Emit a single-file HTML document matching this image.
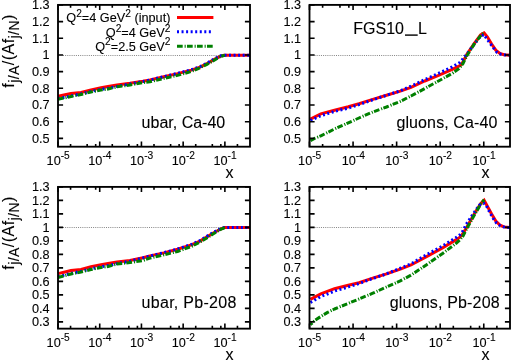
<!DOCTYPE html>
<html><head><meta charset="utf-8"><title>FGS10_L nuclear PDFs</title>
<style>html,body{margin:0;padding:0;background:#fff;overflow:hidden;}svg{display:block;}text{font-family:"Liberation Sans", sans-serif;fill:#000;stroke:#000;stroke-width:0.1px;}</style>
</head><body>
<svg width="520" height="363" viewBox="0 0 520 363" style="will-change:transform">
<rect x="0" y="0" width="520" height="363" fill="#fff"/>
<g>
<line x1="63.0" y1="55.50" x2="250.0" y2="55.50" stroke="#858585" stroke-width="1" stroke-dasharray="1 1.15"/>
<polyline points="58.0,96.2 65.0,94.8 71.0,93.6 81.0,92.4 91.0,90.0 101.0,87.8 108.0,86.6 117.0,85.0 130.0,83.3 143.0,81.3 150.0,80.0 163.8,76.7 177.5,73.6 191.3,70.1 200.0,67.1 206.9,63.7 213.8,59.6 220.6,56.1 224.1,55.2 250.0,55.2" fill="none" stroke="#ff0000" stroke-width="3" stroke-linejoin="miter" stroke-miterlimit="3"/>
<polyline points="58.0,98.6 65.0,97.2 71.0,95.9 81.0,93.9 91.0,91.4 101.0,89.4 108.0,88.3 117.0,86.4 130.0,83.9 143.0,81.5 150.0,80.0 163.8,76.6 177.5,73.4 191.3,69.8 200.0,66.7 206.9,63.2 213.8,59.1 220.6,55.8 223.8,55.2 250.0,55.2" fill="none" stroke="#0000ff" stroke-width="3" stroke-dasharray="2 2.55" stroke-linejoin="round"/>
<polyline points="58.0,99.2 65.0,97.8 71.0,96.5 81.0,94.5 91.0,92.0 101.0,90.0 108.0,89.0 117.0,86.8 130.0,85.0 143.0,82.5 150.0,81.8 163.8,78.4 177.5,75.4 191.3,71.5 200.0,67.8 206.9,64.4 213.8,60.5 220.6,56.4 224.8,55.2" fill="none" stroke="#008000" stroke-width="3" stroke-dasharray="5.7 1.9 1.1 1.3" stroke-dashoffset="0" stroke-linejoin="round"/>
<path d="M58.0 4.90h5.1M250.0 4.90h-5.1M58.0 21.58h5.1M250.0 21.58h-5.1M58.0 38.26h5.1M250.0 38.26h-5.1M58.0 54.95h5.1M250.0 54.95h-5.1M58.0 71.63h5.1M250.0 71.63h-5.1M58.0 88.31h5.1M250.0 88.31h-5.1M58.0 104.99h5.1M250.0 104.99h-5.1M58.0 121.68h5.1M250.0 121.68h-5.1M58.0 138.36h5.1M250.0 138.36h-5.1M58.00 146.7v-5.1M58.00 4.9v5.1M70.56 146.7v-2.8M70.56 4.9v2.8M87.16 146.7v-2.8M87.16 4.9v2.8M95.68 146.7v-2.8M95.68 4.9v2.8M99.72 146.7v-5.1M99.72 4.9v5.1M112.28 146.7v-2.8M112.28 4.9v2.8M128.88 146.7v-2.8M128.88 4.9v2.8M137.40 146.7v-2.8M137.40 4.9v2.8M141.44 146.7v-5.1M141.44 4.9v5.1M154.00 146.7v-2.8M154.00 4.9v2.8M170.60 146.7v-2.8M170.60 4.9v2.8M179.12 146.7v-2.8M179.12 4.9v2.8M183.16 146.7v-5.1M183.16 4.9v5.1M195.72 146.7v-2.8M195.72 4.9v2.8M212.32 146.7v-2.8M212.32 4.9v2.8M220.84 146.7v-2.8M220.84 4.9v2.8M224.88 146.7v-5.1M224.88 4.9v5.1M237.44 146.7v-2.8M237.44 4.9v2.8" stroke="#000" stroke-width="1.6" fill="none"/>
<rect x="58.00" y="4.90" width="192.00" height="141.80" fill="none" stroke="#000" stroke-width="1.85"/>
<text x="49.6" y="9.30" font-size="12.7" text-anchor="end">1.3</text>
<text x="49.6" y="25.98" font-size="12.7" text-anchor="end">1.2</text>
<text x="49.6" y="42.66" font-size="12.7" text-anchor="end">1.1</text>
<text x="49.6" y="59.35" font-size="12.7" text-anchor="end">1</text>
<text x="49.6" y="76.03" font-size="12.7" text-anchor="end">0.9</text>
<text x="49.6" y="92.71" font-size="12.7" text-anchor="end">0.8</text>
<text x="49.6" y="109.39" font-size="12.7" text-anchor="end">0.7</text>
<text x="49.6" y="126.08" font-size="12.7" text-anchor="end">0.6</text>
<text x="49.6" y="142.76" font-size="12.7" text-anchor="end">0.5</text>
<text x="58.20" y="164.9" font-size="12.7" text-anchor="middle">10<tspan font-size="10.2" dy="-6.2">-5</tspan></text>
<text x="99.92" y="164.9" font-size="12.7" text-anchor="middle">10<tspan font-size="10.2" dy="-6.2">-4</tspan></text>
<text x="141.64" y="164.9" font-size="12.7" text-anchor="middle">10<tspan font-size="10.2" dy="-6.2">-3</tspan></text>
<text x="183.36" y="164.9" font-size="12.7" text-anchor="middle">10<tspan font-size="10.2" dy="-6.2">-2</tspan></text>
<text x="225.08" y="164.9" font-size="12.7" text-anchor="middle">10<tspan font-size="10.2" dy="-6.2">-1</tspan></text>
<text x="229.6" y="177.8" font-size="16" text-anchor="middle">x</text>
</g>
<g>
<line x1="314.5" y1="55.50" x2="510.0" y2="55.50" stroke="#858585" stroke-width="1" stroke-dasharray="1 1.15"/>
<polyline points="310.4,119.1 320.8,113.9 334.5,110.2 348.3,106.7 359.0,103.7 372.8,99.4 386.5,95.3 400.3,91.1 411.0,87.3 424.8,81.0 438.5,75.4 452.3,69.3 460.5,65.4 463.0,62.0 466.9,54.3 473.8,44.0 480.6,35.0 484.1,32.9 487.5,37.1 491.6,44.0 495.8,50.2 499.9,53.4 504.0,54.7 510.0,55.3" fill="none" stroke="#ff0000" stroke-width="3" stroke-linejoin="miter" stroke-miterlimit="3"/>
<polyline points="310.4,120.5 320.8,115.7 334.5,111.5 348.3,108.1 359.0,104.6 372.8,99.8 386.5,95.3 400.3,90.8 411.0,86.2 424.8,79.6 438.5,73.4 452.3,66.8 460.0,62.3 466.2,55.0 474.4,44.0 480.6,36.2 484.1,34.7 486.1,37.8 489.6,42.6 493.0,47.4 497.1,52.5 501.3,54.5 507.5,55.3 510.0,55.3" fill="none" stroke="#0000ff" stroke-width="3" stroke-dasharray="2 2.55" stroke-linejoin="round"/>
<polyline points="310.4,140.7 315.0,138.2 320.8,135.9 334.5,129.0 348.3,122.8 359.0,118.0 372.8,112.0 386.5,107.0 400.3,101.4 411.0,96.0 424.8,88.5 438.5,81.0 452.3,73.4 459.1,68.6 463.0,63.5 466.9,55.7 473.8,44.7 480.6,35.8 484.1,31.9" fill="none" stroke="#008000" stroke-width="3" stroke-dasharray="5.7 1.9 1.1 1.3" stroke-dashoffset="0" stroke-linejoin="round"/>
<path d="M309.5 4.90h5.1M510.0 4.90h-5.1M309.5 21.58h5.1M510.0 21.58h-5.1M309.5 38.26h5.1M510.0 38.26h-5.1M309.5 54.95h5.1M510.0 54.95h-5.1M309.5 71.63h5.1M510.0 71.63h-5.1M309.5 88.31h5.1M510.0 88.31h-5.1M309.5 104.99h5.1M510.0 104.99h-5.1M309.5 121.68h5.1M510.0 121.68h-5.1M309.5 138.36h5.1M510.0 138.36h-5.1M309.50 146.7v-5.1M309.50 4.9v5.1M322.62 146.7v-2.8M322.62 4.9v2.8M339.95 146.7v-2.8M339.95 4.9v2.8M348.85 146.7v-2.8M348.85 4.9v2.8M353.07 146.7v-5.1M353.07 4.9v5.1M366.18 146.7v-2.8M366.18 4.9v2.8M383.52 146.7v-2.8M383.52 4.9v2.8M392.41 146.7v-2.8M392.41 4.9v2.8M396.63 146.7v-5.1M396.63 4.9v5.1M409.75 146.7v-2.8M409.75 4.9v2.8M427.09 146.7v-2.8M427.09 4.9v2.8M435.98 146.7v-2.8M435.98 4.9v2.8M440.20 146.7v-5.1M440.20 4.9v5.1M453.32 146.7v-2.8M453.32 4.9v2.8M470.65 146.7v-2.8M470.65 4.9v2.8M479.55 146.7v-2.8M479.55 4.9v2.8M483.77 146.7v-5.1M483.77 4.9v5.1M496.88 146.7v-2.8M496.88 4.9v2.8" stroke="#000" stroke-width="1.6" fill="none"/>
<rect x="309.50" y="4.90" width="200.50" height="141.80" fill="none" stroke="#000" stroke-width="1.85"/>
<text x="301.1" y="9.30" font-size="12.7" text-anchor="end">1.3</text>
<text x="301.1" y="25.98" font-size="12.7" text-anchor="end">1.2</text>
<text x="301.1" y="42.66" font-size="12.7" text-anchor="end">1.1</text>
<text x="301.1" y="59.35" font-size="12.7" text-anchor="end">1</text>
<text x="301.1" y="76.03" font-size="12.7" text-anchor="end">0.9</text>
<text x="301.1" y="92.71" font-size="12.7" text-anchor="end">0.8</text>
<text x="301.1" y="109.39" font-size="12.7" text-anchor="end">0.7</text>
<text x="301.1" y="126.08" font-size="12.7" text-anchor="end">0.6</text>
<text x="301.1" y="142.76" font-size="12.7" text-anchor="end">0.5</text>
<text x="309.70" y="164.9" font-size="12.7" text-anchor="middle">10<tspan font-size="10.2" dy="-6.2">-5</tspan></text>
<text x="353.27" y="164.9" font-size="12.7" text-anchor="middle">10<tspan font-size="10.2" dy="-6.2">-4</tspan></text>
<text x="396.83" y="164.9" font-size="12.7" text-anchor="middle">10<tspan font-size="10.2" dy="-6.2">-3</tspan></text>
<text x="440.40" y="164.9" font-size="12.7" text-anchor="middle">10<tspan font-size="10.2" dy="-6.2">-2</tspan></text>
<text x="483.97" y="164.9" font-size="12.7" text-anchor="middle">10<tspan font-size="10.2" dy="-6.2">-1</tspan></text>
<text x="485.4" y="177.8" font-size="16" text-anchor="middle">x</text>
</g>
<g>
<line x1="63.0" y1="227.50" x2="250.0" y2="227.50" stroke="#858585" stroke-width="1" stroke-dasharray="1 1.15"/>
<polyline points="58.0,273.6 65.0,272.0 71.0,270.6 81.0,269.4 91.0,266.6 101.0,264.7 108.0,263.5 117.0,262.0 130.0,260.5 143.0,257.7 150.0,255.9 163.8,252.9 177.5,249.3 191.3,244.9 200.0,241.1 206.9,236.9 213.8,232.8 220.6,229.0 224.5,227.6 250.0,227.6" fill="none" stroke="#ff0000" stroke-width="3" stroke-linejoin="miter" stroke-miterlimit="3"/>
<polyline points="58.0,276.8 65.0,275.0 71.0,273.4 81.0,271.4 91.0,268.8 101.0,266.8 108.0,265.6 117.0,263.6 130.0,261.2 143.0,257.9 150.0,255.9 163.8,252.7 177.5,249.0 191.3,244.5 200.0,240.6 206.9,236.3 213.8,232.2 220.6,228.6 224.0,227.6 250.0,227.6" fill="none" stroke="#0000ff" stroke-width="3" stroke-dasharray="2 2.55" stroke-linejoin="round"/>
<polyline points="58.0,277.5 65.0,275.6 71.0,274.0 81.0,272.0 91.0,269.5 101.0,267.5 108.0,266.5 117.0,264.0 130.0,262.5 143.0,260.5 150.0,258.0 163.8,254.8 177.5,251.5 191.3,246.5 200.0,242.0 206.9,237.9 213.8,233.5 220.6,229.4 225.0,227.6" fill="none" stroke="#008000" stroke-width="3" stroke-dasharray="5.7 1.9 1.1 1.3" stroke-dashoffset="0" stroke-linejoin="round"/>
<path d="M58.0 186.90h5.1M250.0 186.90h-5.1M58.0 200.40h5.1M250.0 200.40h-5.1M58.0 213.90h5.1M250.0 213.90h-5.1M58.0 227.40h5.1M250.0 227.40h-5.1M58.0 240.90h5.1M250.0 240.90h-5.1M58.0 254.40h5.1M250.0 254.40h-5.1M58.0 267.90h5.1M250.0 267.90h-5.1M58.0 281.40h5.1M250.0 281.40h-5.1M58.0 294.90h5.1M250.0 294.90h-5.1M58.0 308.40h5.1M250.0 308.40h-5.1M58.0 321.90h5.1M250.0 321.90h-5.1M58.00 328.6v-5.1M58.00 186.9v5.1M70.56 328.6v-2.8M70.56 186.9v2.8M87.16 328.6v-2.8M87.16 186.9v2.8M95.68 328.6v-2.8M95.68 186.9v2.8M99.72 328.6v-5.1M99.72 186.9v5.1M112.28 328.6v-2.8M112.28 186.9v2.8M128.88 328.6v-2.8M128.88 186.9v2.8M137.40 328.6v-2.8M137.40 186.9v2.8M141.44 328.6v-5.1M141.44 186.9v5.1M154.00 328.6v-2.8M154.00 186.9v2.8M170.60 328.6v-2.8M170.60 186.9v2.8M179.12 328.6v-2.8M179.12 186.9v2.8M183.16 328.6v-5.1M183.16 186.9v5.1M195.72 328.6v-2.8M195.72 186.9v2.8M212.32 328.6v-2.8M212.32 186.9v2.8M220.84 328.6v-2.8M220.84 186.9v2.8M224.88 328.6v-5.1M224.88 186.9v5.1M237.44 328.6v-2.8M237.44 186.9v2.8" stroke="#000" stroke-width="1.6" fill="none"/>
<rect x="58.00" y="186.90" width="192.00" height="141.75" fill="none" stroke="#000" stroke-width="1.85"/>
<text x="49.6" y="191.30" font-size="12.7" text-anchor="end">1.3</text>
<text x="49.6" y="204.80" font-size="12.7" text-anchor="end">1.2</text>
<text x="49.6" y="218.30" font-size="12.7" text-anchor="end">1.1</text>
<text x="49.6" y="231.80" font-size="12.7" text-anchor="end">1</text>
<text x="49.6" y="245.30" font-size="12.7" text-anchor="end">0.9</text>
<text x="49.6" y="258.80" font-size="12.7" text-anchor="end">0.8</text>
<text x="49.6" y="272.30" font-size="12.7" text-anchor="end">0.7</text>
<text x="49.6" y="285.80" font-size="12.7" text-anchor="end">0.6</text>
<text x="49.6" y="299.30" font-size="12.7" text-anchor="end">0.5</text>
<text x="49.6" y="312.80" font-size="12.7" text-anchor="end">0.4</text>
<text x="49.6" y="326.30" font-size="12.7" text-anchor="end">0.3</text>
<text x="58.20" y="346.8" font-size="12.7" text-anchor="middle">10<tspan font-size="10.2" dy="-6.2">-5</tspan></text>
<text x="99.92" y="346.8" font-size="12.7" text-anchor="middle">10<tspan font-size="10.2" dy="-6.2">-4</tspan></text>
<text x="141.64" y="346.8" font-size="12.7" text-anchor="middle">10<tspan font-size="10.2" dy="-6.2">-3</tspan></text>
<text x="183.36" y="346.8" font-size="12.7" text-anchor="middle">10<tspan font-size="10.2" dy="-6.2">-2</tspan></text>
<text x="225.08" y="346.8" font-size="12.7" text-anchor="middle">10<tspan font-size="10.2" dy="-6.2">-1</tspan></text>
<text x="229.6" y="359.8" font-size="16" text-anchor="middle">x</text>
</g>
<g>
<line x1="314.5" y1="227.50" x2="510.0" y2="227.50" stroke="#858585" stroke-width="1" stroke-dasharray="1 1.15"/>
<polyline points="310.4,299.3 320.8,293.8 334.5,288.7 348.3,285.2 359.0,282.7 372.8,278.1 386.5,273.9 400.3,269.1 411.0,265.0 427.0,256.4 443.0,247.6 455.8,239.9 460.0,237.2 463.0,233.5 466.9,227.1 473.8,214.8 480.6,203.8 484.1,200.3 487.5,206.5 491.6,214.0 495.8,221.0 499.9,225.0 504.0,226.9 510.0,227.5" fill="none" stroke="#ff0000" stroke-width="3" stroke-linejoin="miter" stroke-miterlimit="3"/>
<polyline points="310.4,302.5 320.8,296.6 334.5,291.1 348.3,286.9 359.0,283.5 372.8,278.5 386.5,273.9 400.3,268.2 411.0,263.8 427.0,254.5 443.0,245.7 455.8,237.7 460.0,234.7 463.0,230.8 466.2,224.4 473.1,214.1 479.3,205.1 483.7,203.1 486.1,205.1 489.6,212.0 493.0,218.2 496.5,223.0 500.6,226.0 505.4,227.4 510.0,227.5" fill="none" stroke="#0000ff" stroke-width="3" stroke-dasharray="2 2.55" stroke-linejoin="round"/>
<polyline points="310.4,324.8 315.3,320.0 320.8,316.5 327.6,312.4 334.5,309.0 348.3,303.4 359.0,299.0 372.8,293.2 386.5,287.0 400.3,280.8 411.0,275.2 427.0,264.4 443.0,253.2 455.8,243.6 460.0,239.8 463.0,236.0 466.9,228.5 473.8,216.1 480.6,204.4 484.1,199.6" fill="none" stroke="#008000" stroke-width="3" stroke-dasharray="5.7 1.9 1.1 1.3" stroke-dashoffset="3" stroke-linejoin="round"/>
<path d="M309.5 186.90h5.1M510.0 186.90h-5.1M309.5 200.40h5.1M510.0 200.40h-5.1M309.5 213.90h5.1M510.0 213.90h-5.1M309.5 227.40h5.1M510.0 227.40h-5.1M309.5 240.90h5.1M510.0 240.90h-5.1M309.5 254.40h5.1M510.0 254.40h-5.1M309.5 267.90h5.1M510.0 267.90h-5.1M309.5 281.40h5.1M510.0 281.40h-5.1M309.5 294.90h5.1M510.0 294.90h-5.1M309.5 308.40h5.1M510.0 308.40h-5.1M309.5 321.90h5.1M510.0 321.90h-5.1M309.50 328.6v-5.1M309.50 186.9v5.1M322.62 328.6v-2.8M322.62 186.9v2.8M339.95 328.6v-2.8M339.95 186.9v2.8M348.85 328.6v-2.8M348.85 186.9v2.8M353.07 328.6v-5.1M353.07 186.9v5.1M366.18 328.6v-2.8M366.18 186.9v2.8M383.52 328.6v-2.8M383.52 186.9v2.8M392.41 328.6v-2.8M392.41 186.9v2.8M396.63 328.6v-5.1M396.63 186.9v5.1M409.75 328.6v-2.8M409.75 186.9v2.8M427.09 328.6v-2.8M427.09 186.9v2.8M435.98 328.6v-2.8M435.98 186.9v2.8M440.20 328.6v-5.1M440.20 186.9v5.1M453.32 328.6v-2.8M453.32 186.9v2.8M470.65 328.6v-2.8M470.65 186.9v2.8M479.55 328.6v-2.8M479.55 186.9v2.8M483.77 328.6v-5.1M483.77 186.9v5.1M496.88 328.6v-2.8M496.88 186.9v2.8" stroke="#000" stroke-width="1.6" fill="none"/>
<rect x="309.50" y="186.90" width="200.50" height="141.75" fill="none" stroke="#000" stroke-width="1.85"/>
<text x="301.1" y="191.30" font-size="12.7" text-anchor="end">1.3</text>
<text x="301.1" y="204.80" font-size="12.7" text-anchor="end">1.2</text>
<text x="301.1" y="218.30" font-size="12.7" text-anchor="end">1.1</text>
<text x="301.1" y="231.80" font-size="12.7" text-anchor="end">1</text>
<text x="301.1" y="245.30" font-size="12.7" text-anchor="end">0.9</text>
<text x="301.1" y="258.80" font-size="12.7" text-anchor="end">0.8</text>
<text x="301.1" y="272.30" font-size="12.7" text-anchor="end">0.7</text>
<text x="301.1" y="285.80" font-size="12.7" text-anchor="end">0.6</text>
<text x="301.1" y="299.30" font-size="12.7" text-anchor="end">0.5</text>
<text x="301.1" y="312.80" font-size="12.7" text-anchor="end">0.4</text>
<text x="301.1" y="326.30" font-size="12.7" text-anchor="end">0.3</text>
<text x="309.70" y="346.8" font-size="12.7" text-anchor="middle">10<tspan font-size="10.2" dy="-6.2">-5</tspan></text>
<text x="353.27" y="346.8" font-size="12.7" text-anchor="middle">10<tspan font-size="10.2" dy="-6.2">-4</tspan></text>
<text x="396.83" y="346.8" font-size="12.7" text-anchor="middle">10<tspan font-size="10.2" dy="-6.2">-3</tspan></text>
<text x="440.40" y="346.8" font-size="12.7" text-anchor="middle">10<tspan font-size="10.2" dy="-6.2">-2</tspan></text>
<text x="483.97" y="346.8" font-size="12.7" text-anchor="middle">10<tspan font-size="10.2" dy="-6.2">-1</tspan></text>
<text x="485.4" y="359.8" font-size="16" text-anchor="middle">x</text>
</g>
<text transform="translate(14,87.7) rotate(-90)" font-size="16" textLength="73">f<tspan font-size="14" dy="4.9">j/A</tspan><tspan dy="-4.9">/(Af</tspan><tspan font-size="14" dy="4.9">j/N</tspan><tspan dy="-4.9">)</tspan></text>
<text transform="translate(14,269.7) rotate(-90)" font-size="16" textLength="73">f<tspan font-size="14" dy="4.9">j/A</tspan><tspan dy="-4.9">/(Af</tspan><tspan font-size="14" dy="4.9">j/N</tspan><tspan dy="-4.9">)</tspan></text>
<text x="170.4" y="22.4" font-size="12.7" text-anchor="end">Q<tspan font-size="10.2" dy="-5.8">2</tspan><tspan dy="5.8">=4 GeV</tspan><tspan font-size="10.2" dy="-5.8">2</tspan><tspan dy="5.8"> (input)</tspan></text>
<line x1="177" y1="17.4" x2="213.4" y2="17.4" stroke="#ff0000" stroke-width="3"/>
<text x="170.4" y="37.3" font-size="12.7" text-anchor="end">Q<tspan font-size="10.2" dy="-5.8">2</tspan><tspan dy="5.8">=4 GeV</tspan><tspan font-size="10.2" dy="-5.8">2</tspan></text>
<line x1="177" y1="31.7" x2="213.4" y2="31.7" stroke="#0000ff" stroke-width="3" stroke-dasharray="2 2.55"/>
<text x="170.4" y="51.2" font-size="12.7" text-anchor="end">Q<tspan font-size="10.2" dy="-5.8">2</tspan><tspan dy="5.8">=2.5 GeV</tspan><tspan font-size="10.2" dy="-5.8">2</tspan></text>
<line x1="177" y1="46.2" x2="213.4" y2="46.2" stroke="#008000" stroke-width="3" stroke-dasharray="5.7 1.9 1.1 1.3"/>
<text x="141.6" y="127.6" font-size="16">ubar, Ca-40</text>
<text x="396.4" y="128.1" font-size="16" textLength="101">gluons, Ca-40</text>
<text x="141.6" y="307.5" font-size="16" textLength="94.7">ubar, Pb-208</text>
<text x="389.8" y="307.9" font-size="16" textLength="109.8">gluons, Pb-208</text>
<text x="353.3" y="33.5" font-size="16">FGS10</text>
<rect x="405" y="34.4" width="12.7" height="1.4" fill="#000"/>
<text x="418" y="33.5" font-size="16">L</text>
</svg></body></html>
